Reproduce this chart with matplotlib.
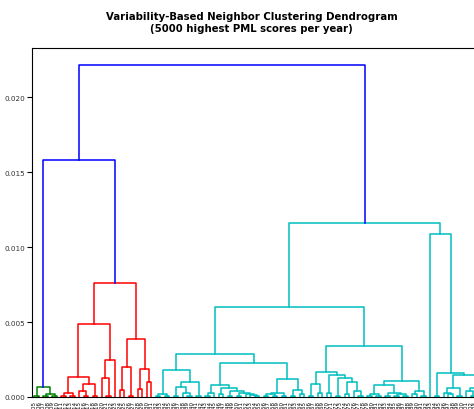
import numpy as np
import matplotlib
matplotlib.use("Agg")
import matplotlib.pyplot as plt

# one leaf per year, in order
years = list(range(1905, 2005))

# merge height between neighbouring years (year i and year i+1)
merge_heights = [
    0.00005, 0.0007, 0.00005, 0.0002, 0.00005,            # 1905-1910
    0.0158,                                                # 1910|1911
    0.0001, 0.0003, 0.0001, 0.00135, 0.0004, 0.0001,       # 1911-1917
    0.0009, 0.0001, 0.0049, 0.00127, 0.0001, 0.0025,       # 1917-1923
    0.0076,                                                # 1923|1924
    0.0005, 0.0020, 0.0001, 0.0039, 0.00053, 0.0019, 0.001,
    0.02216,                                               # 1931|1932
    0.00005, 0.0002, 0.0001, 0.0018, 0.0001, 0.0007, 0.0003,
    0.00005, 0.001, 0.0001,
    0.0029,                                                # 1942|1943
    0.0001, 0.0003, 0.0008,
    0.0002, 0.0006, 0.0001, 0.0004, 0.0001, 0.0003, 0.0002, 0.00015, 0.0001,
    0.0023,                                                # 1955|1956
    0.0001, 0.0002, 0.00005, 0.0003, 0.0001, 0.0012, 0.0001, 0.0005, 0.0002,
    0.0060,                                                # 1965|1966
    0.0001, 0.00087, 0.0003, 0.0017,
    0.0003, 0.0015, 0.0001, 0.0013, 0.0002, 0.001, 0.0004, 0.0001,
    0.0034,                                                # 1978|1979
    0.0001, 0.0002, 0.0001, 0.0008, 0.0001, 0.0003, 0.0001, 0.0002, 0.00005,
    0.0011, 0.0002, 0.0004, 0.0001,
    0.0116,                                                # 1992|1993
    0.0109,
    0.0001, 0.0016, 0.0003, 0.0002, 0.0006, 0.0001, 0.0015, 0.0004, 0.0001, 0.0006,
]

cluster_colors = ["g", "r", "c"]
above_color = "b"
color_threshold = 0.7 * max(merge_heights)

fig = plt.figure(figsize=(4.74, 4.10), dpi=100)
ax = fig.add_axes([32 / 474, 12 / 410, 450 / 474, 349 / 410])

n = len(years)
leaf_x = 5 + 10 * np.arange(n)
color_iter = iter(cluster_colors)


def draw_node(lo, hi, color=None):
    # split the run of years at its largest neighbour gap
    if lo == hi:
        return leaf_x[lo], 0.0
    k = lo + int(np.argmax(merge_heights[lo:hi]))
    h = merge_heights[k]
    if h < color_threshold and color is None:
        color = next(color_iter)
    xl, hl = draw_node(lo, k, color)
    xr, hr = draw_node(k + 1, hi, color)
    c = color if h < color_threshold else above_color
    ax.plot([xl, xl, xr, xr], [hl, h, h, hr], color=c, lw=1.1)
    return (xl + xr) / 2, h


draw_node(0, n - 1)

ax.set_xlim(0, 10 * n)
ax.set_ylim(0, max(merge_heights) * 1.05)
ax.set_xticks(leaf_x)
ax.set_xticklabels([str(y) for y in years], rotation=90, fontsize=4)
ax.tick_params(axis="x", length=0, pad=2)
ax.tick_params(axis="y", labelsize=5.2, length=3.5, width=0.8, pad=1.5,
               labelcolor="#333333")
ax.set_yticks([0.0, 0.005, 0.010, 0.015, 0.020])
ax.set_yticklabels(["0.000", "0.005", "0.010", "0.015", "0.020"])

fig.text(251.5 / 474, 1 - 12 / 410,
         "Variability-Based Neighbor Clustering Dendrogram\n(5000 highest PML scores per year)",
         ha="center", va="top", fontsize=7.3, fontweight="bold", linespacing=1.25)

fig.savefig("out.png", dpi=100)
